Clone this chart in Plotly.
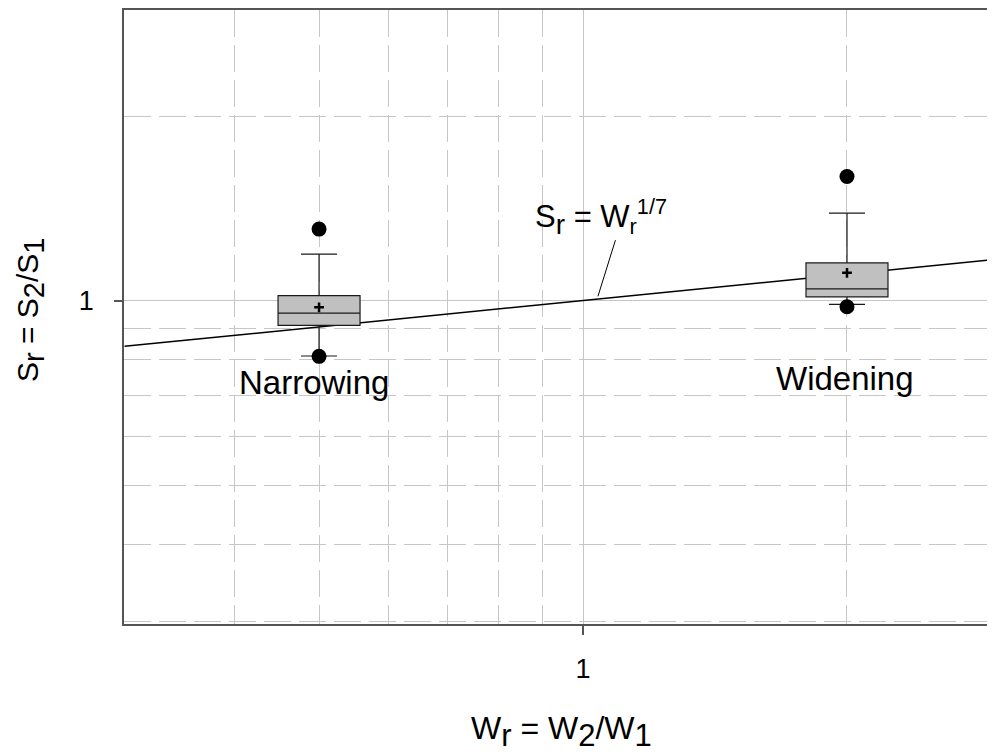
import math
import plotly.graph_objects as go

# ---- data ----
GROUPS = ["Narrowing", "Widening"]
W_POS = [0.5, 2.0]                 # W_r position of each box
Q1 = [0.911, 1.014]
MEDIAN = [0.954, 1.045]
Q3 = [1.019, 1.152]
LOWER_WHISKER = [0.812, 0.986]
UPPER_WHISKER = [1.191, 1.389]
MEAN = [0.975, 1.110]
OUTLIERS_HIGH = [1.308, 1.594]
OUTLIERS_LOW = [0.811, 0.977]

# theoretical line S_r = W_r^(1/7), end points
W_LINE = [0.3, 3.0]
S_LINE = [0.842, 1.170]

X_TICKS = [1]
Y_TICKS = [1]
X_MINOR = [0.4, 0.5, 0.6, 0.7, 0.8, 0.9, 2]
Y_MINOR = [0.3, 0.4, 0.5, 0.6, 0.7, 0.8, 0.9, 2]

X_RANGE = [0.2996, 2.95]
Y_RANGE = [0.2967, 2.979]

FONT = "Liberation Sans, Arial, sans-serif"
GRID = "#c6c6c6"
AXIS = "#555555"
DASH = "27px,8px"

# page body has an 8px margin, so the figure is 8px smaller than the window
FIG_W, FIG_H = 987, 747
M_L, M_T, M_B = 116, 0, 131
PLOT_W = FIG_W - M_L
PLOT_H = FIG_H - M_T - M_B

xr_log = [math.log10(v) for v in X_RANGE]
yr_log = [math.log10(v) for v in Y_RANGE]


def big_sub(t, size):
    return "<sub><span style='font-size:%dpx'>%s</span></sub>" % (size, t)


fig = go.Figure()

fig.add_trace(go.Scatter(x=W_LINE, y=S_LINE, mode="lines",
                         line=dict(color="black", width=1.5),
                         showlegend=False, hoverinfo="skip"))

pos_log = [math.log10(w) for w in W_POS]
for i, g in enumerate(GROUPS):
    fig.add_trace(go.Box(
        x=[pos_log[i]], q1=[Q1[i]], median=[MEDIAN[i]], q3=[Q3[i]],
        lowerfence=[LOWER_WHISKER[i]], upperfence=[UPPER_WHISKER[i]],
        name=g, boxpoints=False, width=0.0935, whiskerwidth=0.44,
        fillcolor="#c0c0c0", line=dict(color="#1a1a1a", width=1.2),
        xaxis="x2", yaxis="y", showlegend=False))

fig.add_trace(go.Scatter(x=pos_log + pos_log, y=OUTLIERS_HIGH + OUTLIERS_LOW,
                         mode="markers", marker=dict(color="black", size=15),
                         xaxis="x2", yaxis="y", showlegend=False))
fig.add_trace(go.Scatter(x=pos_log, y=MEAN, mode="markers",
                         marker=dict(symbol="cross-thin", size=7,
                                     line=dict(color="black", width=2.5)),
                         xaxis="x2", yaxis="y", showlegend=False))

annotations = [
    dict(x=math.log10(0.5) - 0.006, y=-0.134, xref="x", yref="y", text="Narrowing",
         showarrow=False, xanchor="center", yanchor="middle",
         font=dict(family=FONT, size=33, color="black")),
    dict(x=0.2987, y=-0.1276, xref="x", yref="y", text="Widening",
         showarrow=False, xanchor="center", yanchor="middle",
         font=dict(family=FONT, size=33, color="black")),
    dict(x=0.0205, y=0.137, xref="x", yref="y",
         text="S" + "<sub><span style='font-size:28px'>r</span></sub>"
              + " = W<sub>r</sub><sup>1/7</sup>",
         showarrow=False, xanchor="center", yanchor="middle",
         font=dict(family=FONT, size=31, color="black")),
    dict(x=0.016, y=0.016 / 7, xref="x", yref="y", text=" ",
         font=dict(size=1), showarrow=True, arrowhead=0, arrowwidth=1,
         arrowcolor="black", ax=19, ay=-61, standoff=3),
    dict(x=(553 - M_L) / PLOT_W, y=-(724 - (FIG_H - M_B)) / PLOT_H,
         xref="paper", yref="paper", xanchor="center", yanchor="middle",
         text="W" + big_sub("r", 31) + " = W" + big_sub("2", 31) + "/W" + big_sub("1", 31),
         showarrow=False, font=dict(family=FONT, size=32, color="black")),
    dict(x=(22 - M_L) / PLOT_W, y=((FIG_H - M_B) - 301) / PLOT_H,
         xref="paper", yref="paper", xanchor="center", yanchor="middle",
         text="S" + big_sub("r", 29) + " = S" + big_sub("2", 29) + "/S" + big_sub("1", 29),
         showarrow=False, textangle=-90,
         font=dict(family=FONT, size=30, color="black")),
]

fig.update_layout(
    width=FIG_W, height=FIG_H,
    margin=dict(l=M_L, r=0, t=M_T, b=M_B, pad=0),
    paper_bgcolor="white", plot_bgcolor="white",
    font=dict(family=FONT, color="black"),
    showlegend=False,
    boxmode="overlay",
    annotations=annotations,
    xaxis=dict(type="log", range=xr_log, showline=True, linecolor=AXIS,
               linewidth=1.5, mirror=True, ticks="outside", ticklen=9,
               tickcolor=AXIS, tickwidth=1.5, tickvals=X_TICKS, ticktext=["1"],
               tickfont=dict(size=27), ticklabelstandoff=11,
               showgrid=True, gridcolor=GRID, gridwidth=1.3, zeroline=False,
               minor=dict(tickvals=X_MINOR, showgrid=True, gridcolor=GRID,
                          gridwidth=1.3, griddash=DASH, ticks="")),
    xaxis2=dict(type="linear", range=xr_log, overlaying="x", anchor="y",
                visible=False, showgrid=False, zeroline=False),
    yaxis=dict(type="log", range=yr_log, showline=True, linecolor=AXIS,
               linewidth=1.5, ticks="outside", ticklen=8, tickcolor=AXIS,
               tickwidth=1.5, tickvals=Y_TICKS, ticktext=["1"],
               tickfont=dict(size=27), ticklabelstandoff=15,
               showgrid=True, gridcolor=GRID, gridwidth=1.3, zeroline=False,
               minor=dict(tickvals=Y_MINOR, showgrid=True, gridcolor=GRID,
                          gridwidth=1.3, griddash=DASH, ticks="")),
)

fig.write_html("out.html")
